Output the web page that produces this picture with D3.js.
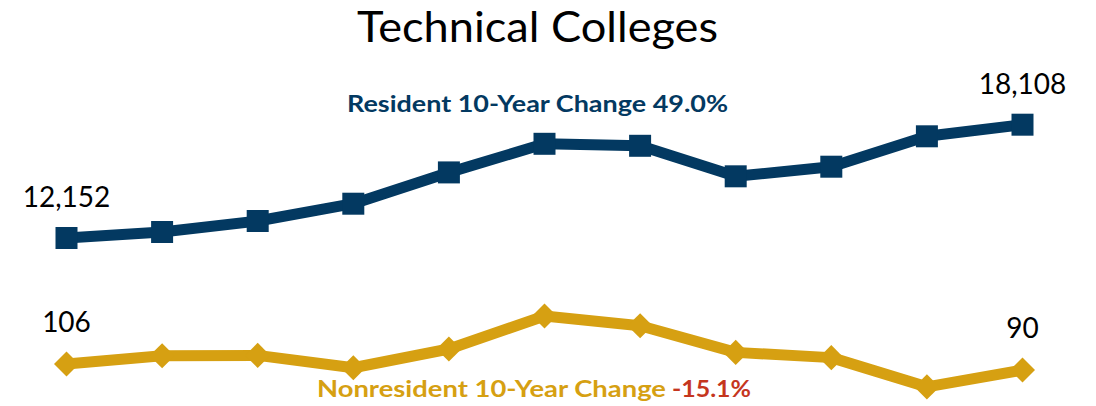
<!DOCTYPE html>
<html>
<head>
<meta charset="utf-8">
<script src="https://cdn.jsdelivr.net/npm/d3@7"></script>
<style>
  html, body { margin: 0; padding: 0; background: #ffffff; }
  svg { display: block; }
</style>
</head>
<body>
<svg id="chart" width="1096" height="406"></svg>
<script>
// ---- data ----
const years = ["2014","2015","2016","2017","2018","2019","2020","2021","2022","2023","2024"];
const resident = [12152, 12467, 13046, 13955, 15600, 17104, 16999, 15395, 15900, 17498, 18108];
const nonresident = [106, 128, 129, 96, 146, 234, 208, 137, 123, 45, 90];
const titleText = "Technical Colleges";
const residentLabel = "Resident 10-Year Change ";
const residentChange = "49.0%";
const nonresidentLabel = "Nonresident 10-Year Change";
const nonresidentChange = "-15.1%";

// ---- style ----
const NAVY = "#033961";
const GOLD = "#D6A012";
const RED = "#C5361E";
const FONT = "Lato, 'Open Sans', sans-serif";

const svg = d3.select("#chart");

const x = d3.scalePoint().domain(years).range([66.5, 1022.5]);
const yRes = d3.scaleLinear().domain([0, 20000]).range([469.2, 88.7]);
const yNon = d3.scaleLinear().domain([0, 250]).range([403.75, 310]);

function fitText(sel, width) {
  sel.attr("textLength", width).attr("lengthAdjust", "spacingAndGlyphs");
}

// title
svg.append("text")
  .attr("x", 537.5).attr("y", 42)
  .attr("text-anchor", "middle")
  .style("font-family", FONT).style("font-size", "43px").style("fill", "#000")
  .text(titleText)
  .call(fitText, 361);

// resident line
const lineRes = d3.line().x((d, i) => x(years[i])).y(d => yRes(d));
svg.append("path").datum(resident)
  .attr("d", lineRes)
  .attr("fill", "none").attr("stroke", NAVY).attr("stroke-width", 11)
  .attr("stroke-linejoin", "round");

svg.selectAll(".resMark").data(resident).enter().append("path")
  .attr("class", "resMark")
  .attr("d", d3.symbol().type(d3.symbolSquare).size(22 * 22))
  .attr("transform", (d, i) => `translate(${x(years[i])},${yRes(d)})`)
  .attr("fill", NAVY);

// nonresident line
const lineNon = d3.line().x((d, i) => x(years[i])).y(d => yNon(d));
svg.append("path").datum(nonresident)
  .attr("d", lineNon)
  .attr("fill", "none").attr("stroke", GOLD).attr("stroke-width", 11)
  .attr("stroke-linejoin", "round");

svg.selectAll(".nonMark").data(nonresident).enter().append("path")
  .attr("class", "nonMark")
  .attr("d", d3.symbol().type(d3.symbolSquare).size(17.7 * 17.7))
  .attr("transform", (d, i) => `translate(${x(years[i])},${yNon(d)}) rotate(45)`)
  .attr("fill", GOLD);

// end-point data labels
const fmt = d3.format(",");
const ends = [0, resident.length - 1];
ends.forEach(i => {
  svg.append("text")
    .attr("x", x(years[i])).attr("y", yRes(resident[i]) - 31)
    .attr("text-anchor", "middle")
    .style("font-family", FONT).style("font-size", "28px").style("fill", "#000")
    .text(fmt(resident[i]));
  svg.append("text")
    .attr("x", x(years[i])).attr("y", yNon(nonresident[i]) - 32)
    .attr("text-anchor", "middle")
    .style("font-family", FONT).style("font-size", "28px").style("fill", "#000")
    .text(fmt(nonresident[i]));
});

// resident change label
const rl = svg.append("text")
  .attr("x", 347).attr("y", 112)
  .style("font-family", FONT).style("font-size", "23.5px").style("font-weight", "bold")
  .style("fill", NAVY)
  .text(residentLabel + residentChange)
  .call(fitText, 381);

// nonresident change label
svg.append("text")
  .attr("x", 317).attr("y", 397)
  .style("font-family", FONT).style("font-size", "23.5px").style("font-weight", "bold")
  .style("fill", GOLD)
  .text(nonresidentLabel)
  .call(fitText, 349);
svg.append("text")
  .attr("x", 672).attr("y", 397)
  .style("font-family", FONT).style("font-size", "23.5px").style("font-weight", "bold")
  .style("fill", RED)
  .text(nonresidentChange)
  .call(fitText, 79);
</script>
</body>
</html>
